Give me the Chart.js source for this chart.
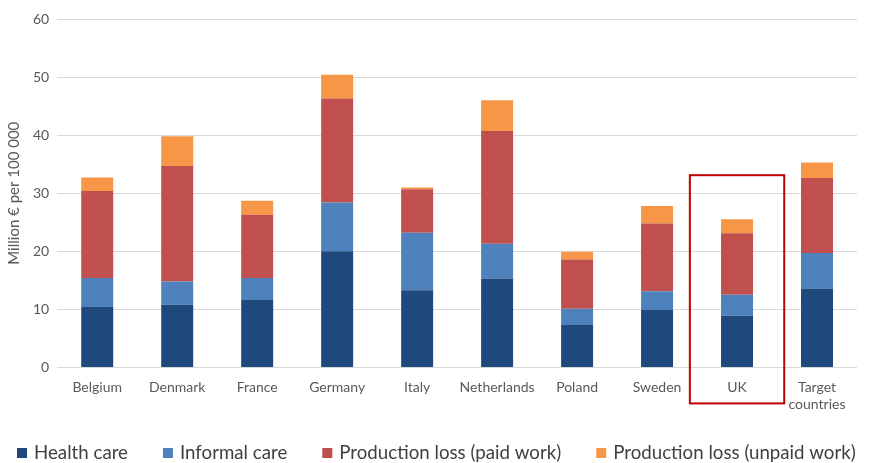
<!DOCTYPE html>
<html>
<head>
<meta charset="utf-8">
<script src="https://cdn.jsdelivr.net/npm/chart.js@4/dist/chart.umd.min.js"></script>
<style>
  html, body { margin: 0; padding: 0; background: #fff; }
  #wrap { width: 873px; height: 463px; }
</style>
</head>
<body>
<div id="wrap"><canvas id="canvas"></canvas></div>
<script>
var countries = ['Belgium', 'Denmark', 'France', 'Germany', 'Italy', 'Netherlands', 'Poland', 'Sweden', 'UK', ['Target', 'countries']];
var healthCare = [10.4, 10.8, 11.6, 20.0, 13.3, 15.3, 7.3, 9.9, 8.9, 13.6];
var informalCare = [5.0, 4.0, 3.8, 8.4, 9.9, 6.0, 2.8, 3.2, 3.6, 6.1];
var paidWork = [15.0, 19.9, 10.9, 17.9, 7.5, 19.4, 8.5, 11.7, 10.6, 12.9];
var unpaidWork = [2.3, 5.1, 2.4, 4.1, 0.3, 5.3, 1.3, 3.0, 2.4, 2.7];
var yTicks = [0, 10, 20, 30, 40, 50, 60];

var highlightIndex = 8; // UK
var highlightTop = 33.1;

var highlightBox = {
    id: 'highlightBox',
    afterDraw: function(chart) {
        var ctx = chart.ctx;
        var x = chart.scales.x;
        var y = chart.scales.y;
        var cx = x.getPixelForValue(highlightIndex);
        var step = x.getPixelForValue(1) - x.getPixelForValue(0);
        var left = cx - step * 0.59;
        var right = cx + step * 0.59;
        var top = y.getPixelForValue(highlightTop);
        var bottom = chart.chartArea.bottom + 36;
        ctx.save();
        ctx.strokeStyle = '#C00000';
        ctx.lineWidth = 2;
        ctx.strokeRect(left, top, right - left, bottom - top);
        ctx.restore();
    }
};

// single-row legend at the bottom, Excel style (built-in one wraps)
var bottomLegend = {
    id: 'bottomLegend',
    afterDraw: function(chart) {
        var ctx = chart.ctx;
        var xPos = 17;
        var yMid = chart.height - 10;
        ctx.save();
        ctx.font = '18.7px Lato';
        ctx.textBaseline = 'middle';
        ctx.textAlign = 'left';
        chart.data.datasets.forEach(function(ds) {
            ctx.fillStyle = ds.backgroundColor;
            ctx.fillRect(xPos, yMid - 5, 10, 10);
            ctx.fillStyle = '#404040';
            ctx.fillText(ds.label, xPos + 17, yMid);
            xPos += 17 + ctx.measureText(ds.label).width + 35;
        });
        ctx.restore();
    }
};

var config = {
    type: 'bar',
    data: {
        labels: countries,
        datasets: [{
            label: 'Health care',
            data: healthCare,
            backgroundColor: '#1F497D'
        }, {
            label: 'Informal care',
            data: informalCare,
            backgroundColor: '#4F81BD'
        }, {
            label: 'Production loss (paid work)',
            data: paidWork,
            backgroundColor: '#C0504D'
        }, {
            label: 'Production loss (unpaid work)',
            data: unpaidWork,
            backgroundColor: '#F79646'
        }]
    },
    options: {
        responsive: true,
        maintainAspectRatio: false,
        animation: false,
        layout: {
            padding: { left: 5, right: 16, top: 19, bottom: 38 }
        },
        datasets: {
            bar: {
                barPercentage: 0.4,
                categoryPercentage: 1.0
            }
        },
        scales: {
            x: {
                stacked: true,
                grid: { display: false, drawTicks: false },
                border: { display: false },
                ticks: {
                    color: '#595959',
                    font: { family: 'Lato', size: 14, lineHeight: 1.2 },
                    maxRotation: 0,
                    autoSkip: false,
                    padding: 12
                }
            },
            y: {
                stacked: true,
                min: 0,
                max: 60,
                afterBuildTicks: function(scale) {
                    scale.ticks = yTicks.map(function(v) { return { value: v }; });
                },
                grid: { color: '#d9d9d9', drawTicks: false },
                border: { display: false },
                ticks: {
                    color: '#595959',
                    font: { family: 'Lato', size: 14 },
                    padding: 8
                },
                title: {
                    display: true,
                    text: 'Million € per 100 000',
                    color: '#595959',
                    font: { family: 'Lato', size: 15 },
                    padding: { top: 0, bottom: 2 }
                }
            }
        },
        plugins: {
            legend: { display: false },
            tooltip: { enabled: false }
        }
    },
    plugins: [highlightBox, bottomLegend]
};

function loadChart() {
    var ctx = document.getElementById('canvas').getContext('2d');
    window.myBar = new Chart(ctx, config);
}
loadChart();
</script>
</body>
</html>
